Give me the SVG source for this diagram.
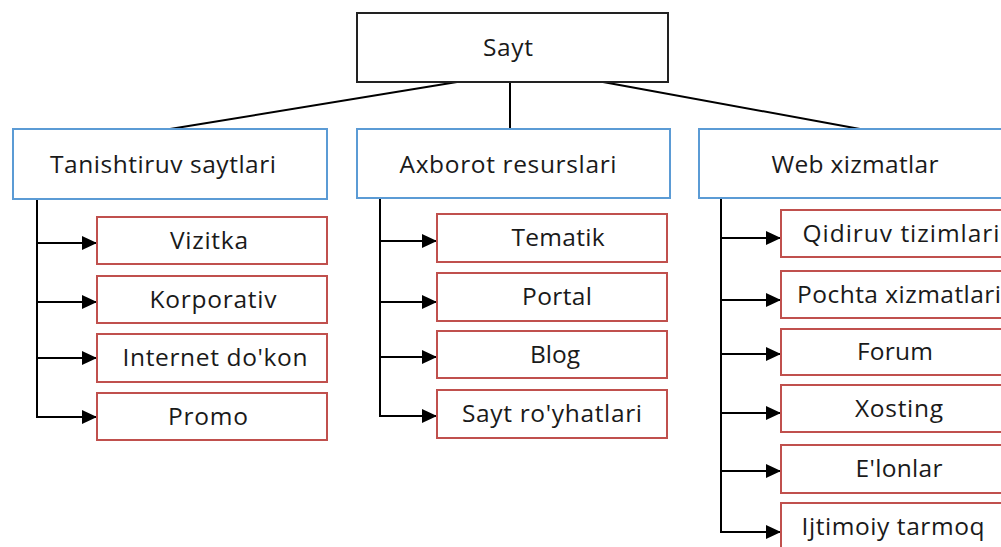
<svg xmlns="http://www.w3.org/2000/svg" width="1001" height="547" viewBox="0 0 1001 547">
<defs>
<marker id="ah" markerUnits="userSpaceOnUse" markerWidth="16" markerHeight="14" refX="15" refY="7" orient="auto">
<path d="M0,0 L15,7 L0,14 Z" fill="#000"/>
</marker>
<style>
.t{font-family:"Open Sans","Liberation Sans",sans-serif;font-size:24.5px;fill:#1a1a1a;text-anchor:middle}
.root{fill:#fff;stroke:#222;stroke-width:2}
.cat{fill:#fff;stroke:#5b9bd5;stroke-width:2}
.leaf{fill:#fff;stroke:#c0504d;stroke-width:2}
.ln{fill:none;stroke:#000;stroke-width:2}
.ar{fill:none;stroke:#000;stroke-width:2;marker-end:url(#ah)}
</style>
</defs>
<rect width="1001" height="547" fill="#fff"/>
<g id="connectors">
<line class="ln" x1="457" y1="82" x2="170" y2="129"/>
<line class="ln" x1="510" y1="82" x2="510" y2="129"/>
<line class="ln" x1="603" y1="82" x2="860" y2="129"/>
<polyline class="ln" points="37,199 37,417"/>
<line class="ar" x1="37" y1="243" x2="97" y2="243"/>
<line class="ar" x1="37" y1="302" x2="97" y2="302"/>
<line class="ar" x1="37" y1="358" x2="97" y2="358"/>
<line class="ar" x1="36" y1="417" x2="97" y2="417"/>
<polyline class="ln" points="380,198 380,416"/>
<line class="ar" x1="380" y1="241" x2="437" y2="241"/>
<line class="ar" x1="380" y1="302" x2="437" y2="302"/>
<line class="ar" x1="380" y1="357" x2="437" y2="357"/>
<line class="ar" x1="379" y1="416" x2="437" y2="416"/>
<polyline class="ln" points="721,198 721,532"/>
<line class="ar" x1="721" y1="238" x2="781" y2="238"/>
<line class="ar" x1="721" y1="300" x2="781" y2="300"/>
<line class="ar" x1="721" y1="354" x2="781" y2="354"/>
<line class="ar" x1="721" y1="413" x2="781" y2="413"/>
<line class="ar" x1="721" y1="471" x2="781" y2="471"/>
<line class="ar" x1="720" y1="532" x2="781" y2="532"/>
</g>
<g id="sayt"><rect class="root" x="357" y="13" width="311" height="69"/><text class="t" x="508" y="56" textLength="50">Sayt</text></g>
<g id="tanishtiruv"><rect class="cat" x="13" y="129" width="314" height="70"/><text class="t" x="163" y="173" textLength="226">Tanishtiruv saytlari</text></g>
<g id="axborot"><rect class="cat" x="357" y="129" width="313" height="69"/><text class="t" x="508" y="173" textLength="217">Axborot resurslari</text></g>
<g id="web"><rect class="cat" x="699" y="129" width="312" height="69"/><text class="t" x="855" y="173" textLength="167">Web xizmatlar</text></g>
<g id="vizitka"><rect class="leaf" x="97" y="217" width="230" height="47"/><text class="t" x="209" y="249" textLength="78">Vizitka</text></g>
<g id="korporativ"><rect class="leaf" x="97" y="276" width="230" height="47"/><text class="t" x="213" y="308" textLength="127">Korporativ</text></g>
<g id="internet"><rect class="leaf" x="97" y="334" width="230" height="48"/><text class="t" x="215" y="366" textLength="185">Internet do'kon</text></g>
<g id="promo"><rect class="leaf" x="97" y="393" width="230" height="47"/><text class="t" x="208" y="425" textLength="80">Promo</text></g>
<g id="tematik"><rect class="leaf" x="437" y="214" width="230" height="48"/><text class="t" x="558" y="246" textLength="93">Tematik</text></g>
<g id="portal"><rect class="leaf" x="437" y="273" width="230" height="48"/><text class="t" x="557" y="305" textLength="70">Portal</text></g>
<g id="blog"><rect class="leaf" x="437" y="331" width="230" height="47"/><text class="t" x="555" y="363" textLength="50">Blog</text></g>
<g id="saytroyhat"><rect class="leaf" x="437" y="390" width="230" height="48"/><text class="t" x="552" y="422" textLength="180">Sayt ro'yhatlari</text></g>
<g id="qidiruv"><rect class="leaf" x="781" y="210" width="230" height="47"/><text class="t" x="901" y="242" textLength="197">Qidiruv tizimlari</text></g>
<g id="pochta"><rect class="leaf" x="781" y="271" width="230" height="47"/><text class="t" x="899" y="303" textLength="204">Pochta xizmatlari</text></g>
<g id="forum"><rect class="leaf" x="781" y="329" width="230" height="46"/><text class="t" x="895" y="360" textLength="76">Forum</text></g>
<g id="xosting"><rect class="leaf" x="781" y="385" width="230" height="47"/><text class="t" x="899" y="417" textLength="88">Xosting</text></g>
<g id="elonlar"><rect class="leaf" x="781" y="445" width="230" height="48"/><text class="t" x="899" y="477" textLength="87">E'lonlar</text></g>
<g id="ijtimoiy"><rect class="leaf" x="781" y="503" width="230" height="60"/><text class="t" x="893" y="535" textLength="183">Ijtimoiy tarmoq</text></g>
</svg>
